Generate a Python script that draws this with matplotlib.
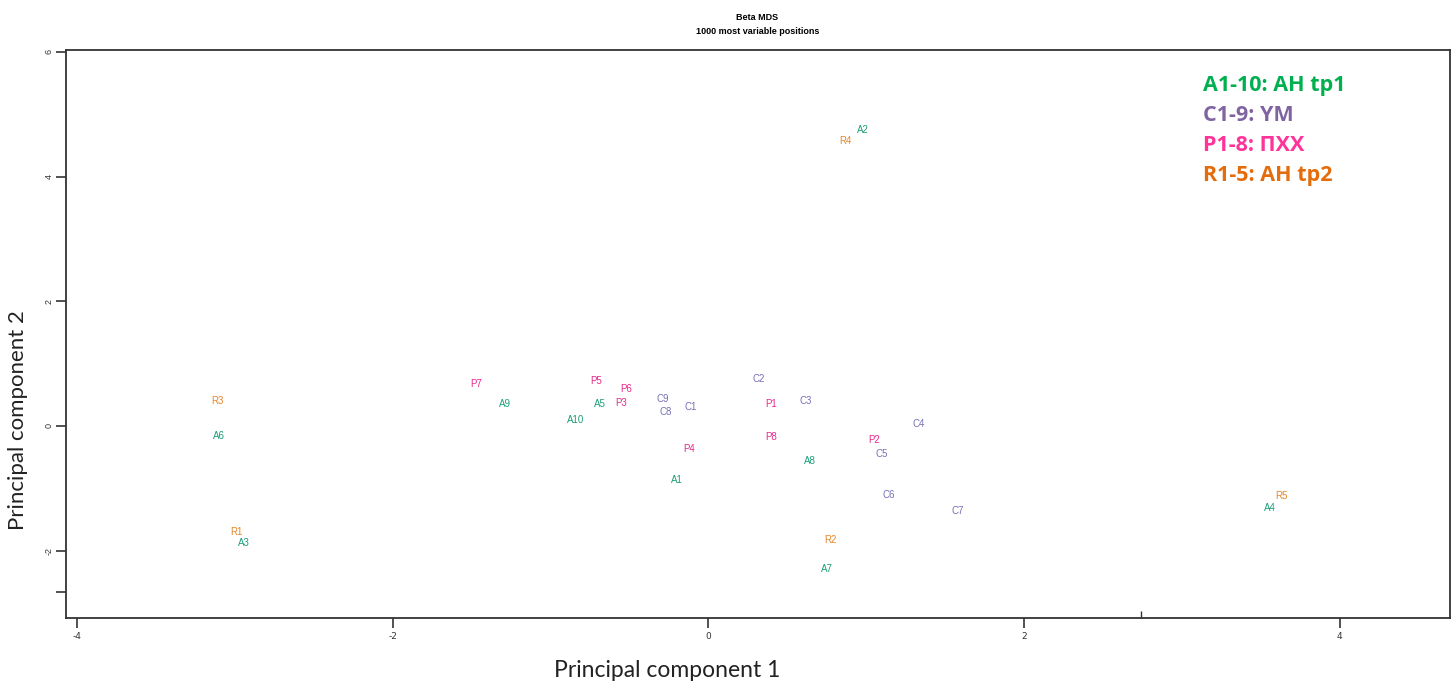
import matplotlib
matplotlib.use("Agg")
import matplotlib.pyplot as plt

# Sample labels and MDS coordinates
labels_A = ["A1", "A2", "A3", "A4", "A5", "A6", "A7", "A8", "A9", "A10"]
x_A = [-0.20, 0.98, -2.94, 3.56, -0.69, -3.10, 0.75, 0.64, -1.29, -0.84]
y_A = [-0.87, 4.75, -1.88, -1.32, 0.35, -0.16, -2.30, -0.56, 0.35, 0.10]

labels_C = ["C1", "C2", "C3", "C4", "C5", "C6", "C7", "C8", "C9"]
x_C = [-0.11, 0.32, 0.615, 1.33, 1.10, 1.14, 1.58, -0.27, -0.29]
y_C = [0.30, 0.75, 0.40, 0.03, -0.45, -1.11, -1.36, 0.22, 0.43]

labels_P = ["P1", "P2", "P3", "P4", "P5", "P6", "P7", "P8"]
x_P = [0.40, 1.05, -0.55, -0.12, -0.71, -0.52, -1.47, 0.40]
y_P = [0.35, -0.22, 0.37, -0.37, 0.72, 0.59, 0.67, -0.18]

labels_R = ["R1", "R2", "R3", "R4", "R5"]
x_R = [-2.99, 0.77, -3.11, 0.87, 3.63]
y_R = [-1.70, -1.83, 0.40, 4.57, -1.12]

x_ticks = [-4, -2, 0, 2, 4]
y_ticks = [-2, 0, 2, 4, 6]

legend_texts = ["A1-10: AH tp1", "C1-9: YM", "P1-8: ПХХ", "R1-5: AH tp2"]
legend_colors = ["#00B050", "#8064A2", "#FF3399", "#E46C0A"]
point_colors = ["#1B9E77", "#7570B3", "#E7298A", "#E6862A"]

fig = plt.figure(figsize=(14.51, 6.83), dpi=100)
ax = fig.add_axes([0.0455, 0.0952, 0.954, 0.8316])

groups = [(labels_A, x_A, y_A), (labels_C, x_C, y_C),
          (labels_P, x_P, y_P), (labels_R, x_R, y_R)]
for (labs, xs, ys), col in zip(groups, point_colors):
    for lab, xv, yv in zip(labs, xs, ys):
        ax.text(xv, yv, lab, color=col, fontsize=7, ha="center", va="center",
                family="Liberation Sans")

ax.set_xlim(-4.07, 4.70)
ax.set_ylim(-3.08, 6.03)
ax.set_xticks(x_ticks)
ax.set_yticks(y_ticks)
ax.set_xticklabels([str(v) for v in x_ticks], fontsize=6.5, family="Liberation Sans Narrow")
ax.set_yticklabels([str(v) for v in y_ticks], fontsize=6.5, rotation=90, va="center",
                   family="Liberation Sans")
ax.set_yticks([-2.66], minor=True)
ax.set_xticks([2.74], minor=True)
ax.tick_params(axis="both", which="major", length=7, width=1.2, colors="#333333")
ax.tick_params(axis="y", which="minor", length=7, width=1.2, color="#333333")
ax.tick_params(axis="x", which="minor", direction="in", length=5, width=1.0, color="#333333")
ax.tick_params(axis="x", which="major", pad=3)
ax.tick_params(axis="y", which="major", pad=2)
for s in ax.spines.values():
    s.set_linewidth(1.3)
    s.set_color("#333333")

fig.text(0.460, 0.018, "Principal component 1", fontsize=16.5, family="Lato",
         ha="center", va="center", color="#222222")
fig.text(0.0125, 0.385, "Principal component 2", fontsize=16, family="Lato",
         ha="center", va="center", rotation=90, color="#222222")

fig.text(0.522, 0.975, "Beta MDS", fontsize=6.5, fontweight="bold", ha="center",
         va="center", family="Liberation Sans")
fig.text(0.522, 0.954, "1000 most variable positions", fontsize=6.5, fontweight="bold",
         ha="center", va="center", family="Liberation Sans")

for i, (t, c) in enumerate(zip(legend_texts, legend_colors)):
    fig.text(0.829, 0.875 - i * 0.0440, t, color=c, fontsize=15.5, fontweight="bold",
             ha="left", va="center", family="Open Sans")

fig.savefig("out.png", dpi=100)
